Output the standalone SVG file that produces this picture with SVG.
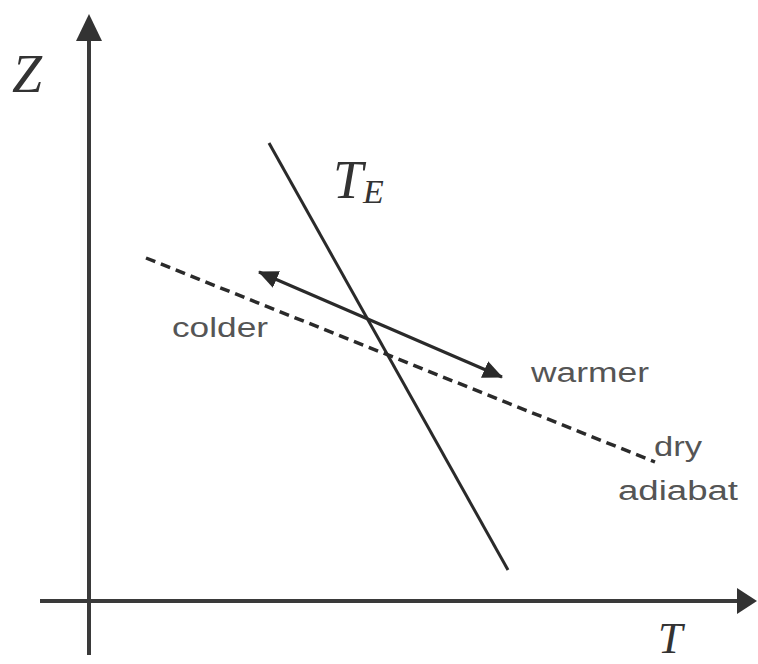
<svg xmlns="http://www.w3.org/2000/svg" width="758" height="664" viewBox="0 0 758 664">
<defs>
<style>
.ax{stroke:#3a3a3a;stroke-width:4;fill:none}
.ln{stroke:#2a2a2a;stroke-width:3;fill:none}
.dash{stroke:#2a2a2a;stroke-width:3.5;fill:none;stroke-dasharray:10 6}
.lbl{font-family:"Liberation Sans",Arial,sans-serif;font-size:27px;fill:#555}
.math{font-family:"Liberation Serif","Times New Roman",serif;font-style:italic;fill:#333}
</style>
<marker id="ah" viewBox="0 0 20 20" refX="19" refY="10" markerWidth="20" markerHeight="20" markerUnits="userSpaceOnUse" orient="auto-start-reverse">
<path d="M0,1 L20,10 L0,19 z" fill="#2a2a2a"/>
</marker>
</defs>
<rect width="758" height="664" fill="#fff"/>
<g id="connectors">
<line class="ax" x1="89" y1="655" x2="89" y2="36"/>
<path d="M89,14 L76,41 L102,41 z" fill="#333"/>
<line class="ax" x1="40" y1="601" x2="740" y2="601"/>
<path d="M757,601 L737,588 L737,614 z" fill="#333"/>
<line id="TE-line" class="ln" x1="269" y1="143" x2="508" y2="570"/>
<line id="dry-adiabat-line" class="dash" x1="146" y1="258" x2="655" y2="462"/>
<line id="temp-arrow" class="ln" x1="259" y1="272" x2="502" y2="377" marker-start="url(#ah)" marker-end="url(#ah)"/>
</g>
<g id="label-Z"><text class="math" x="12" y="92" font-size="54">Z</text></g>
<g id="label-T"><text class="math" x="658" y="653" font-size="44">T</text></g>
<g id="label-TE"><text class="math" x="333" y="198" font-size="54">T<tspan font-size="34" dy="5">E</tspan></text></g>
<g id="label-colder"><text class="lbl" x="172" y="337" textLength="96" lengthAdjust="spacingAndGlyphs">colder</text></g>
<g id="label-warmer"><text class="lbl" x="531" y="382" textLength="118" lengthAdjust="spacingAndGlyphs">warmer</text></g>
<g id="label-dry"><text class="lbl" x="654" y="456" textLength="48" lengthAdjust="spacingAndGlyphs">dry</text></g>
<g id="label-adiabat"><text class="lbl" x="618" y="500" textLength="120" lengthAdjust="spacingAndGlyphs">adiabat</text></g>
</svg>
